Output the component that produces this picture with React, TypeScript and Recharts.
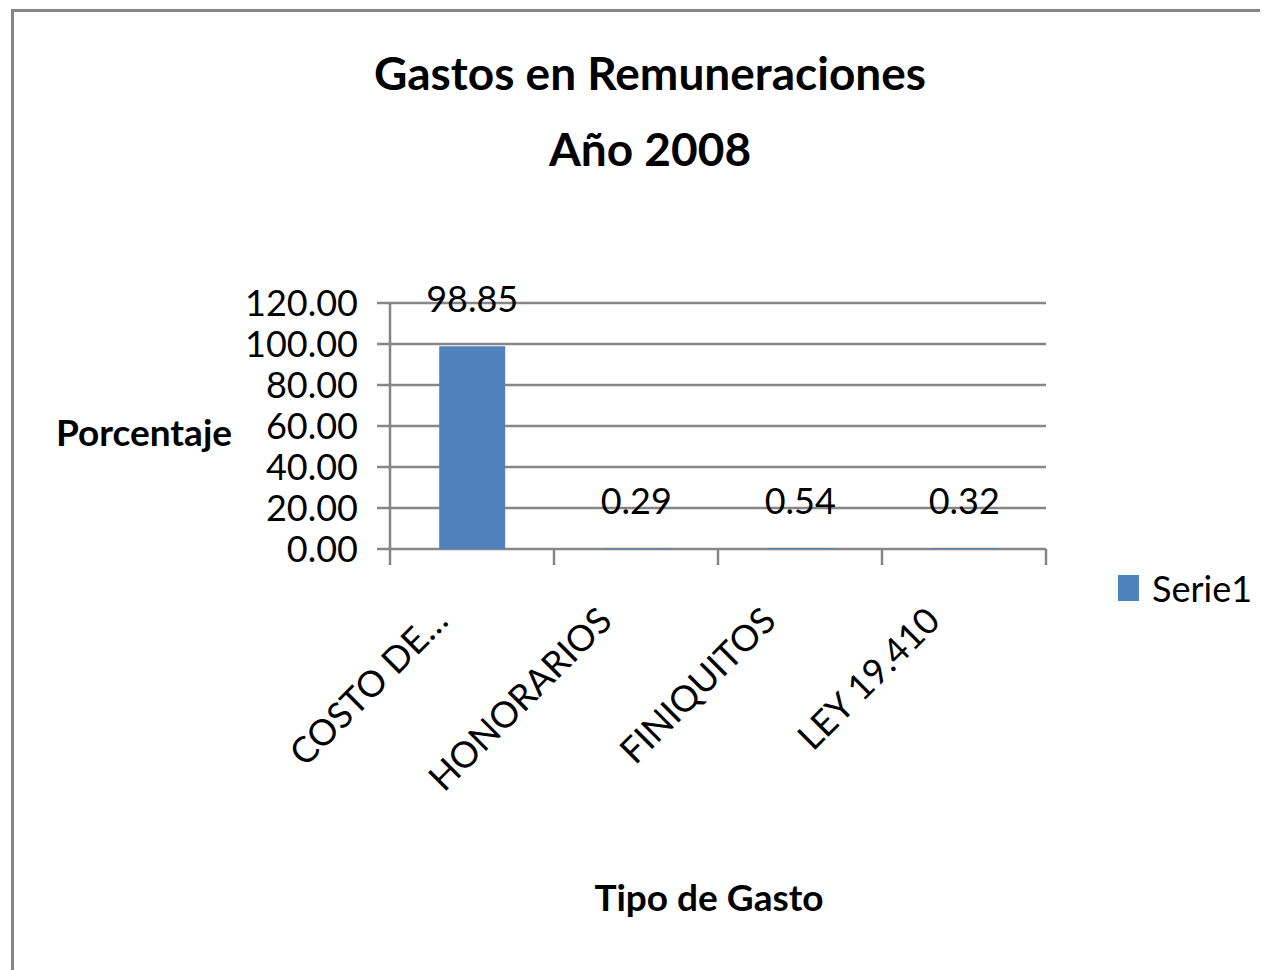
import React from 'react';
import { BarChart, Bar, XAxis, YAxis, CartesianGrid, LabelList, Legend, Customized } from 'recharts';

const categories = ['COSTO DE…', 'HONORARIOS', 'FINIQUITOS', 'LEY 19.410'];
const serie1 = [98.85, 0.29, 0.54, 0.32];
const yTicks = [0, 20, 40, 60, 80, 100, 120];
const titleLines = ['Gastos en Remuneraciones', 'Año 2008'];
const yAxisTitle = 'Porcentaje';
const xAxisTitle = 'Tipo de Gasto';
const seriesName = 'Serie1';

const data = categories.map((c, i) => ({ name: c, Serie1: serie1[i] }));

const FONT = "Lato, 'DejaVu Sans Condensed', sans-serif";
const GRID = '#868686';
const BAR = '#4F81BD';

const W = 1260;
const H = 962;
const PLOT_LEFT = 382;
const PLOT_TOP = 295;
const PLOT_W = 656;
const PLOT_H = 246;
const Y_AXIS_W = 100;
const X_AXIS_H = 150;
const BAND = PLOT_W / categories.length;

const XTick = (props: any) => {
  const { x, y, payload, index } = props;
  const left = x - BAND / 2;
  return (
    <g>
      <line x1={left} y1={y} x2={left} y2={y + 16} stroke={GRID} strokeWidth={2.5} />
      {index === categories.length - 1 && (
        <line x1={x + BAND / 2} y1={y} x2={x + BAND / 2} y2={y + 16} stroke={GRID} strokeWidth={2.5} />
      )}
      <text
        x={x - 22}
        y={y + 74}
        textAnchor="end"
        transform={`rotate(-45, ${x - 22}, ${y + 74})`}
        fontFamily={FONT}
        fontSize={36}
        fill="#000"
      >
        {payload.value}
      </text>
    </g>
  );
};

const Titles = () => (
  <g fontFamily={FONT} fontWeight="bold" fill="#000">
    <text x={642} y={82} textAnchor="middle" fontSize={46}>{titleLines[0]}</text>
    <text x={642} y={158} textAnchor="middle" fontSize={46}>{titleLines[1]}</text>
    <text x={136} y={438} textAnchor="middle" fontSize={37}>{yAxisTitle}</text>
    <text x={701} y={903} textAnchor="middle" fontSize={37}>{xAxisTitle}</text>
  </g>
);

const LegendContent = () => (
  <div style={{ display: 'flex', alignItems: 'center', fontFamily: FONT, fontSize: 36, color: '#000' }}>
    <div style={{ width: 21, height: 26, background: BAR, marginRight: 13 }} />
    <span>{seriesName}</span>
  </div>
);

export default function App() {
  return (
    <div style={{ position: 'relative', width: W, height: H, overflow: 'hidden', background: '#fff' }}>
      <div
        style={{
          position: 'absolute',
          left: 3,
          top: 1,
          width: 2000,
          height: 2000,
          borderLeft: `3px solid ${GRID}`,
          borderTop: `3px solid ${GRID}`,
          boxSizing: 'border-box',
        }}
      />
      <div style={{ position: 'absolute', left: 0, top: 0 }}>
        <BarChart
          width={W}
          height={H}
          data={data}
          barCategoryGap="30%"
          margin={{
            top: PLOT_TOP,
            right: W - PLOT_LEFT - PLOT_W,
            bottom: H - PLOT_TOP - PLOT_H - X_AXIS_H,
            left: PLOT_LEFT - Y_AXIS_W,
          }}
        >
          <CartesianGrid vertical={false} stroke={GRID} strokeWidth={2.5} />
          <XAxis
            dataKey="name"
            height={X_AXIS_H}
            axisLine={false}
            tickLine={false}
            tickSize={0}
            tickMargin={0}
            interval={0}
            tick={<XTick />}
          />
          <YAxis
            width={Y_AXIS_W}
            domain={[0, 120]}
            ticks={yTicks}
            interval={0}
            tickFormatter={(v: number) => v.toFixed(2)}
            axisLine={{ stroke: GRID, strokeWidth: 2.5 }}
            tickLine={{ stroke: GRID, strokeWidth: 2.5 }}
            tickSize={13}
            tickMargin={19}
            tick={{ fontFamily: FONT, fontSize: 36, fill: '#000' }}
          />
          <Legend
            content={<LegendContent />}
            layout="horizontal"
            verticalAlign="middle"
            align="center"
            wrapperStyle={{ position: 'absolute', left: 1110, top: 558, width: 150 }}
          />
          <Bar dataKey="Serie1" name={seriesName} fill={BAR} isAnimationActive={false}>
            <LabelList
              dataKey="Serie1"
              position="top"
              offset={34}
              formatter={(v: any) => Number(v).toFixed(2)}
              style={{ fontFamily: FONT, fontSize: 36, fill: '#000' }}
            />
          </Bar>
          <Customized component={Titles} />
        </BarChart>
      </div>
    </div>
  );
}
